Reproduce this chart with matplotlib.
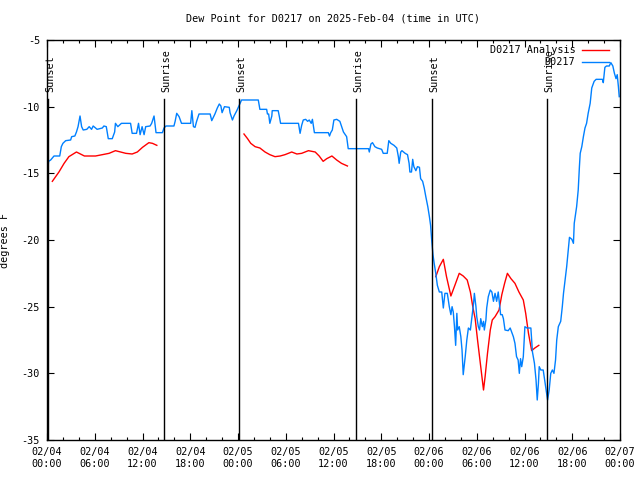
import numpy as np
import matplotlib
matplotlib.use("Agg")
import matplotlib.pyplot as plt
import matplotlib.transforms as mtransforms

title = "Dew Point for D0217 on 2025-Feb-04 (time in UTC)"
ylabel = "degrees F"

# hours since 2025-02-04 00:00 UTC
obs_hours = [0.04, 0.2, 0.46, 0.88, 1.6, 1.8, 2.0, 2.35, 2.97, 3.1, 3.5, 3.7, 3.9, 4.15, 4.35, 4.55, 5.0, 5.3, 5.6, 5.8,
             6.3, 6.95, 7.15, 7.45, 7.7, 8.2, 8.5, 8.6, 8.9, 9.35, 10.5, 10.7, 11.25, 11.5, 11.7, 11.95, 12.2, 12.4, 12.95, 13.15,
             13.45, 13.7, 14.5, 14.7, 14.95, 15.95, 16.1, 16.3, 16.6, 16.9, 18.05, 18.2, 18.4, 18.6, 18.8, 19.1, 20.5, 20.7, 21.1, 21.4,
             21.65, 21.85, 22.0, 22.3, 22.9, 23.0, 23.3, 23.5, 23.85, 24.15, 24.45, 26.55, 26.75, 27.6, 27.7, 27.85, 28.0, 28.25, 28.3, 29.05,
             29.2, 29.35, 31.6, 31.8, 32.0, 32.2, 32.5, 32.75, 32.95, 33.2, 33.35, 33.6, 35.35, 35.5, 35.65, 35.85, 36.05, 36.4, 36.8, 37.0,
             37.25, 37.65, 37.85, 40.4, 40.5, 40.7, 40.9, 41.2, 41.5, 42.05, 42.25, 42.75, 42.95, 43.2, 43.6, 43.95, 44.15, 44.25, 44.45, 44.6,
             45.0, 45.3, 45.5, 45.6, 45.8, 45.95, 46.1, 46.35, 46.55, 46.8, 46.95, 47.2, 47.4, 47.6, 47.85, 48.05, 48.2, 48.35, 48.5, 48.65,
             48.85, 49.05, 49.3, 49.6, 49.8, 50.0, 50.3, 50.55, 50.75, 50.9, 51.05, 51.2, 51.35, 51.5, 51.6, 51.8, 52.0, 52.15, 52.3, 52.55,
             52.75, 52.95, 53.2, 53.4, 53.6, 53.7, 53.9, 54.0, 54.2, 54.35, 54.5, 54.7, 54.85, 54.95, 55.15, 55.25, 55.45, 55.7, 55.9, 56.1,
             56.3, 56.5, 56.7, 56.85, 57.0, 57.2, 57.35, 57.55, 57.95, 58.2, 58.6, 58.8, 59.0, 59.2, 59.35, 59.5, 59.65, 59.85, 60.05, 60.3,
             60.8, 61.0, 61.25, 61.45, 61.6, 61.75, 61.85, 62.05, 62.35, 62.6, 62.8, 62.9, 63.1, 63.3, 63.5, 63.7, 63.9, 64.05, 64.25, 64.55,
             64.75, 64.9, 65.1, 65.3, 65.5, 65.65, 65.95, 66.15, 66.25, 66.55, 66.75, 66.9, 67.0, 67.2, 67.4, 67.6, 67.8, 68.0, 68.25, 68.45,
             68.75, 69.0, 69.8, 69.9, 70.1, 70.3, 70.65, 70.85, 71.1, 71.3, 71.5, 71.65, 71.8, 71.9]
obs_dewpt = [-15.1, -14.1, -14.0, -13.7, -13.7, -13.0, -12.75, -12.55, -12.5, -12.25, -12.2, -11.9, -11.5, -10.7, -11.5, -11.75, -11.7, -11.5, -11.7, -11.45,
             -11.7, -11.6, -11.45, -11.5, -12.4, -12.4, -11.9, -11.25, -11.5, -11.25, -11.25, -12.0, -12.0, -11.25, -12.1, -11.5, -12.1, -11.5, -11.45, -11.25,
             -10.7, -11.95, -11.95, -11.6, -11.45, -11.45, -11.1, -10.5, -10.75, -11.25, -11.25, -10.3, -11.5, -11.55, -11.1, -10.55, -10.55, -11.05, -10.55, -10.1,
             -9.8, -9.95, -10.45, -10.0, -10.05, -10.45, -11.0, -10.7, -10.3, -9.9, -9.5, -9.5, -10.2, -10.2, -10.55, -10.55, -11.25, -10.7, -10.3, -10.3,
             -10.75, -11.25, -11.25, -12.0, -11.4, -11.0, -10.95, -11.1, -11.0, -11.25, -10.95, -11.95, -11.95, -12.2, -11.95, -11.75, -11.0, -10.95, -11.1, -11.45,
             -11.9, -12.25, -13.15, -13.15, -13.4, -12.8, -12.7, -13.0, -13.1, -13.2, -13.5, -13.5, -12.55, -12.75, -12.9, -13.1, -13.75, -14.25, -13.4, -13.3,
             -13.5, -13.6, -14.25, -14.9, -14.9, -13.95, -14.5, -14.8, -14.5, -14.55, -15.4, -15.6, -16.1, -16.75, -17.5, -18.25, -18.9, -20.1, -21.1, -21.75,
             -22.5, -23.4, -23.9, -23.9, -25.1, -24.0, -24.0, -25.0, -25.6, -25.0, -25.4, -26.5, -27.9, -25.5, -26.75, -26.5, -27.25, -28.25, -30.1, -28.75,
             -27.5, -26.6, -26.75, -25.75, -24.75, -24.0, -25.0, -25.75, -26.5, -26.75, -25.9, -26.5, -26.1, -26.75, -26.0, -25.1, -24.25, -23.75, -23.9, -24.6,
             -24.0, -24.6, -23.9, -24.75, -25.6, -25.6, -25.9, -26.75, -26.8, -26.6, -27.25, -27.75, -28.75, -29.0, -30.0, -28.9, -29.5, -28.75, -26.5, -26.6,
             -26.6, -28.4, -29.25, -30.5, -32.0, -30.75, -29.5, -29.75, -29.75, -30.75, -31.5, -32.0, -31.25, -30.0, -29.75, -30.0, -29.0, -27.5, -26.5, -26.1,
             -25.0, -24.0, -23.0, -22.0, -20.75, -19.8, -19.95, -20.25, -18.75, -17.5, -16.25, -14.5, -13.5, -13.0, -12.25, -11.6, -11.25, -10.5, -9.75, -8.6,
             -8.1, -7.95, -7.95, -8.2, -7.05, -6.95, -6.95, -6.7, -6.95, -7.5, -7.9, -7.6, -8.5, -9.25]

ana_hours = [0.67, 1.5, 2.15, 2.75, 3.7, 4.2, 4.7, 6.1, 6.95, 7.8, 8.6, 9.25, 9.9, 10.7, 11.35, 12.0, 12.8, 13.25, 13.8,
             19.0,
             24.75, 25.2, 25.6, 26.15, 26.75, 27.4, 28.0, 28.65, 29.3, 29.9, 30.75, 31.4, 32.0, 32.85, 33.7, 34.2, 34.7, 35.15, 35.8, 36.4, 37.0, 37.75,
             43.0,
             48.85, 49.3, 49.8, 50.2, 50.75, 51.25, 51.8, 52.3, 52.8, 53.2, 53.5, 53.8, 54.1, 54.45, 54.85, 55.05, 55.35, 55.7, 55.95, 56.3,
             56.8, 57.15, 57.5, 57.85, 58.3, 58.8, 59.3, 59.85, 60.15, 60.5, 60.9, 61.3, 61.8]
ana_dewpt = [-15.6, -14.9, -14.25, -13.75, -13.4, -13.55, -13.7, -13.7, -13.6, -13.5, -13.3, -13.4, -13.5, -13.55, -13.4, -13.05, -12.7, -12.75, -12.9,
             np.nan,
             -12.05, -12.4, -12.75, -13.0, -13.1, -13.4, -13.6, -13.75, -13.7, -13.6, -13.4, -13.55, -13.5, -13.3, -13.4, -13.7, -14.1, -13.9, -13.7, -14.0, -14.25, -14.45,
             np.nan,
             -22.75, -22.0, -21.45, -22.75, -24.2, -23.4, -22.5, -22.7, -23.0, -23.9, -25.0, -25.9, -27.5, -29.25, -31.25, -30.25, -28.5, -26.75, -26.0, -25.75,
             -25.25, -24.1, -23.25, -22.5, -22.9, -23.25, -23.9, -24.5, -25.5, -27.0, -28.3, -28.1, -27.9]

sun_hours = [0.13, 14.7, 24.13, 38.8, 48.38, 62.8]
sun_labels = ["Sunset", "Sunrise", "Sunset", "Sunrise", "Sunset", "Sunrise"]

xtick_hours = [0, 6, 12, 18, 24, 30, 36, 42, 48, 54, 60, 66, 72]
xtick_labels = ["02/04\n00:00", "02/04\n06:00", "02/04\n12:00", "02/04\n18:00",
                "02/05\n00:00", "02/05\n06:00", "02/05\n12:00", "02/05\n18:00",
                "02/06\n00:00", "02/06\n06:00", "02/06\n12:00", "02/06\n18:00",
                "02/07\n00:00"]
yticks = [-35, -30, -25, -20, -15, -10, -5]

plt.rcParams['font.family'] = ['DejaVu Sans Mono']
fs = 7.3

fig = plt.figure(figsize=(6.4, 4.8), dpi=100)
ax = fig.add_axes([47/640, 40/480, 573/640, 400/480])

ax.plot(ana_hours, ana_dewpt, color='#ff0000', lw=1.0, label='D0217 Analysis')
ax.plot(obs_hours, obs_dewpt, color='#0080ff', lw=1.0, label='D0217')

trans = mtransforms.blended_transform_factory(ax.transData, ax.transAxes)
for h, lab in zip(sun_hours, sun_labels):
    ax.plot([h, h], [0, 0.8525], transform=trans, color='black', lw=1.0)
    ax.text(h + 0.3, 0.87, lab, transform=trans, rotation=90, ha='center', va='bottom', fontsize=fs)

ax.set_xlim(0, 72)
ax.set_ylim(-35, -5)
ax.set_xticks(xtick_hours)
ax.set_xticklabels(xtick_labels, fontsize=fs)
ax.set_xticks(np.arange(0, 73, 2), minor=True)
ax.set_yticks(yticks)
ax.set_yticklabels([str(v) for v in yticks], fontsize=fs)
ax.tick_params(axis='both', which='major', direction='in', length=5, width=0.8, top=True, right=True, pad=5)
ax.tick_params(axis='x', which='minor', direction='in', length=2.5, width=0.8, top=True, bottom=True)
for s in ax.spines.values():
    s.set_linewidth(1.0)

ax.set_title(title, fontsize=fs, pad=13)
ax.set_ylabel(ylabel, fontsize=fs)
ax.yaxis.set_label_coords((10 - 47) / 573, 0.5)

leg = ax.legend(loc='upper right', frameon=False, markerfirst=False, fontsize=fs,
                handlelength=2.7, handletextpad=0.6, labelspacing=0.2,
                borderaxespad=0.3, bbox_to_anchor=(0.993, 1.005))

fig.savefig('out.png', dpi=100)
